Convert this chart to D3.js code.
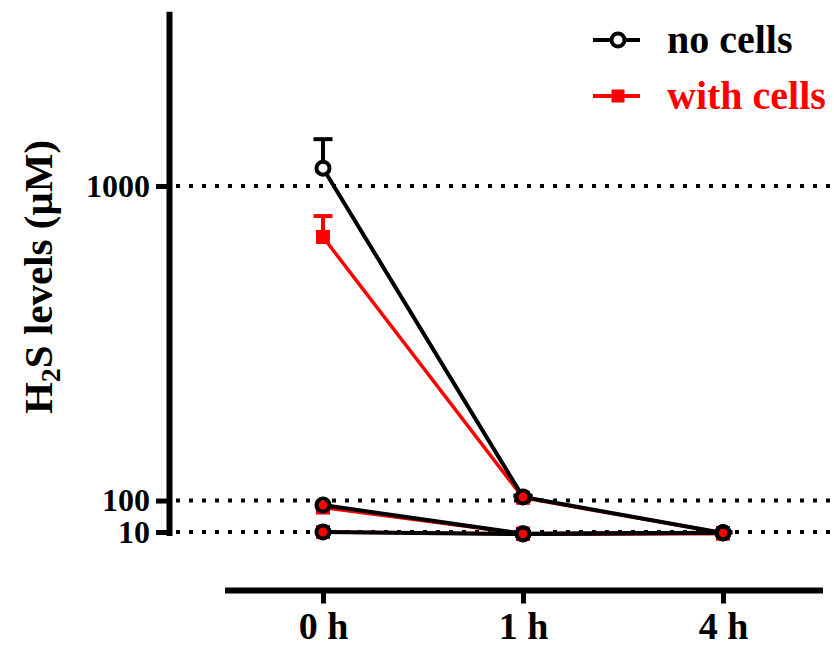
<!DOCTYPE html>
<html>
<head>
<meta charset="utf-8">
<script src="https://cdn.jsdelivr.net/npm/d3@7"></script>
<style>
  body { margin: 0; background: #fff; }
  svg { display: block; }
  text { font-family: "Liberation Serif", "Times New Roman", serif; font-weight: bold; }
</style>
</head>
<body>
<svg id="drawing_region"></svg>
<script>
// data (H2S in µM)
const times = ['0 h', '1 h', '4 h'];
const yTicks = [10, 100, 1000];

const noCellsHigh = [1051, 110, 7];
const noCellsHighErr = [83, 4, 2];
const withCellsHigh = [854, 108, 7];
const withCellsHighErr = [60, 4, 2];

const noCellsMid = [87, 5, 8];
const withCellsMid = [80, 5, 6];

const noCellsLow = [10, 4, 8];
const withCellsLow = [10, 5, 6];

const legendLabels = ['no cells', 'with cells'];

const series = [
    { group: 'with', values: withCellsHigh, err: withCellsHighErr },
    { group: 'with', values: withCellsMid, err: null },
    { group: 'with', values: withCellsLow, err: null },
    { group: 'no', values: noCellsHigh, err: noCellsHighErr },
    { group: 'no', values: noCellsMid, err: null },
    { group: 'no', values: noCellsLow, err: null }
];

const colors = { no: '#000000', with: '#ff0000' };

const width = 834, height = 648;

const svg = d3.select('#drawing_region')
    .attr('width', width)
    .attr('height', height);

const xscale = d3.scalePoint()
    .domain(times)
    .range([323, 723]);

const yscale = d3.scaleLinear()
    .domain([0, 1500])
    .range([535.5, 11.25]);

// dotted reference lines
svg.append('g')
    .selectAll('line')
    .data(yTicks)
    .join('line')
    .attr('x1', 176)
    .attr('x2', width)
    .attr('y1', d => yscale(d))
    .attr('y2', d => yscale(d))
    .attr('stroke', '#000')
    .attr('stroke-width', 4)
    .attr('stroke-dasharray', '4 9');

// y axis
const yaxis = d3.axisLeft(yscale)
    .tickValues(yTicks)
    .tickFormat(d3.format('d'))
    .tickSize(13)
    .tickSizeOuter(0)
    .tickPadding(6);

const yaxis_group = svg.append('g')
    .attr('transform', 'translate(169, 0)')
    .call(yaxis);
yaxis_group.select('.domain').attr('stroke-width', 6);
yaxis_group.selectAll('.tick line').attr('stroke-width', 5);
yaxis_group.selectAll('.tick text')
    .style('font-size', '32px')
    .style('font-family', '"Liberation Serif", serif')
    .style('font-weight', 'bold')
    .attr('fill', '#000');

// x axis
const xaxis = d3.axisBottom(xscale)
    .tickSize(13)
    .tickSizeOuter(0)
    .tickPadding(9);

const xaxis_group = svg.append('g')
    .attr('transform', 'translate(0, 590.5)')
    .call(xaxis);
xaxis_group.select('.domain').remove();
xaxis_group.append('line')
    .attr('x1', 225)
    .attr('x2', 823)
    .attr('stroke', '#000')
    .attr('stroke-width', 6);
xaxis_group.selectAll('.tick line').attr('stroke-width', 5);
xaxis_group.selectAll('.tick text')
    .style('font-size', '38px')
    .style('font-family', '"Liberation Serif", serif')
    .style('font-weight', 'bold')
    .attr('fill', '#000');

// y label
const ylabel = svg.append('text')
    .attr('transform', 'translate(52, 277) rotate(-90)')
    .attr('text-anchor', 'middle')
    .style('font-size', '41px')
    .attr('fill', '#000');
ylabel.append('tspan').text('H');
ylabel.append('tspan').attr('dy', 8).style('font-size', '28px').text('2');
ylabel.append('tspan').attr('dy', -8).text('S levels (μM)');

const line = d3.line()
    .x((d, i) => xscale(times[i]))
    .y(d => yscale(d));

const chart = svg.append('g');

// lines
chart.selectAll('path.series')
    .data(series)
    .join('path')
    .attr('class', 'series')
    .attr('d', d => line(d.values))
    .attr('fill', 'none')
    .attr('stroke', d => colors[d.group])
    .attr('stroke-width', d => d.group === 'no' ? 4 : 3.5);

// error bars (upper only)
const errs = [];
series.forEach(s => {
    if (!s.err) return;
    s.values.forEach((v, i) => errs.push({ group: s.group, t: times[i], v: v, e: s.err[i] }));
});

const errG = chart.selectAll('g.err')
    .data(errs)
    .join('g')
    .attr('class', 'err')
    .attr('stroke', d => colors[d.group])
    .attr('stroke-width', 4);
errG.append('line')
    .attr('x1', d => xscale(d.t))
    .attr('x2', d => xscale(d.t))
    .attr('y1', d => yscale(d.v))
    .attr('y2', d => yscale(d.v + d.e));
errG.append('line')
    .attr('x1', d => xscale(d.t) - 9.5)
    .attr('x2', d => xscale(d.t) + 9.5)
    .attr('y1', d => yscale(d.v + d.e))
    .attr('y2', d => yscale(d.v + d.e));

const pts = [];
series.forEach(s => s.values.forEach((v, i) => pts.push({ group: s.group, t: times[i], v: v })));

// white knockout under the open circles
chart.selectAll('circle.knock')
    .data(pts.filter(d => d.group === 'no'))
    .join('circle')
    .attr('class', 'knock')
    .attr('cx', d => xscale(d.t))
    .attr('cy', d => yscale(d.v))
    .attr('r', 6.5)
    .attr('fill', '#fff');

// red squares
chart.selectAll('rect.sq')
    .data(pts.filter(d => d.group === 'with'))
    .join('rect')
    .attr('class', 'sq')
    .attr('x', d => xscale(d.t) - 7)
    .attr('y', d => yscale(d.v) - 7)
    .attr('width', 14)
    .attr('height', 14)
    .attr('fill', colors.with);

// open circles
chart.selectAll('circle.ring')
    .data(pts.filter(d => d.group === 'no'))
    .join('circle')
    .attr('class', 'ring')
    .attr('cx', d => xscale(d.t))
    .attr('cy', d => yscale(d.v))
    .attr('r', 6.5)
    .attr('fill', 'none')
    .attr('stroke', colors.no)
    .attr('stroke-width', 4);

// legend
const legend = svg.append('g').attr('transform', 'translate(593, 40)');

const lg0 = legend.append('g');
lg0.append('line').attr('x1', 0).attr('x2', 18).attr('stroke', colors.no).attr('stroke-width', 4);
lg0.append('line').attr('x1', 32).attr('x2', 47).attr('stroke', colors.no).attr('stroke-width', 4);
lg0.append('circle').attr('cx', 25).attr('r', 6.5).attr('fill', 'none')
    .attr('stroke', colors.no).attr('stroke-width', 4);
lg0.append('text').attr('x', 74).attr('y', 13)
    .style('font-size', '40px').attr('fill', colors.no).text(legendLabels[0]);

const lg1 = legend.append('g').attr('transform', 'translate(0, 56)');
lg1.append('line').attr('x1', 0).attr('x2', 47).attr('stroke', colors.with).attr('stroke-width', 4);
lg1.append('rect').attr('x', 18.5).attr('y', -6.5).attr('width', 13).attr('height', 13)
    .attr('fill', colors.with);
lg1.append('text').attr('x', 74).attr('y', 13)
    .style('font-size', '40px').attr('fill', colors.with).text(legendLabels[1]);
</script>
</body>
</html>
